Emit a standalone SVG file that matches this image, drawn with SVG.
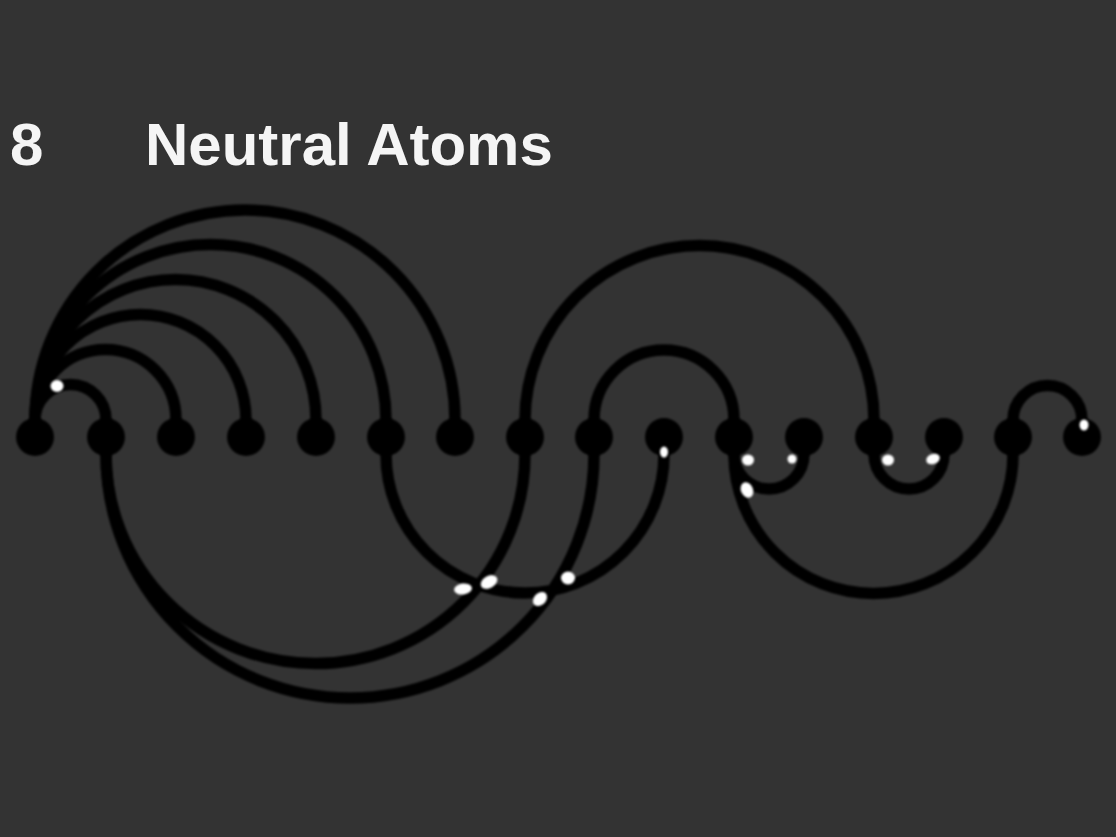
<svg xmlns="http://www.w3.org/2000/svg" width="1116" height="837" viewBox="0 0 1116 837">
  <style>
    .arc { fill: none; stroke: #000; stroke-width: 11.5; stroke-linecap: round; }
    .node { fill: #000; }
    .dot { fill: #fff; }
    .title { fill: #f5f5f5; font-family: "Liberation Sans", Arial, sans-serif; font-weight: bold; font-size: 60px; }
  </style>
  <defs>
    <filter id="soft" x="-5%" y="-5%" width="110%" height="110%">
      <feGaussianBlur stdDeviation="1.2"/>
    </filter>
  </defs>
  <rect width="1116" height="837" fill="#333333"/>

  <g id="title">
    <text class="title" x="10" y="165">8</text>
    <text class="title" x="145" y="165">Neutral Atoms</text>
  </g>

  <g id="connectors" filter="url(#soft)">
    <!-- upper arcs -->
    <path class="arc" d="M35,437 V420 A35.5,35.5 0 0 1 106,420 V437"/>
    <path class="arc" d="M35,437 V420 A70.5,70.5 0 0 1 176,420 V437"/>
    <path class="arc" d="M35,437 V420 A105.5,105.5 0 0 1 246,420 V437"/>
    <path class="arc" d="M35,437 V420 A140.5,140.5 0 0 1 316,420 V437"/>
    <path class="arc" d="M35,437 V420 A175.5,175.5 0 0 1 386,420 V437"/>
    <path class="arc" d="M35,437 V420 A210,210 0 0 1 455,420 V437"/>
    <path class="arc" d="M525,437 V420 A174.5,174.5 0 0 1 874,420 V437"/>
    <path class="arc" d="M594,437 V420 A70,70 0 0 1 734,420 V437"/>
    <path class="arc" d="M1013,437 V420 A34.5,34.5 0 0 1 1082,420 V437"/>
    <!-- lower arcs -->
    <path class="arc" d="M106,437 V454 A209.5,209.5 0 0 0 525,454 V437"/>
    <path class="arc" d="M106,437 V454 A244,244 0 0 0 594,454 V437"/>
    <path class="arc" d="M386,437 V454 A139,139 0 0 0 664,454 V437"/>
    <path class="arc" d="M734,437 V454 A35,35 0 0 0 804,454 V437"/>
    <path class="arc" d="M874,437 V454 A35,35 0 0 0 944,454 V437"/>
    <path class="arc" d="M734,437 V454 A139.5,139.5 0 0 0 1013,454 V437"/>
  </g>

  <g id="nodes" filter="url(#soft)">
    <g id="n0"><circle class="node" cx="35" cy="437" r="19"/></g>
    <g id="n1"><circle class="node" cx="106" cy="437" r="19"/></g>
    <g id="n2"><circle class="node" cx="176" cy="437" r="19"/></g>
    <g id="n3"><circle class="node" cx="246" cy="437" r="19"/></g>
    <g id="n4"><circle class="node" cx="316" cy="437" r="19"/></g>
    <g id="n5"><circle class="node" cx="386" cy="437" r="19"/></g>
    <g id="n6"><circle class="node" cx="455" cy="437" r="19"/></g>
    <g id="n7"><circle class="node" cx="525" cy="437" r="19"/></g>
    <g id="n8"><circle class="node" cx="594" cy="437" r="19"/></g>
    <g id="n9"><circle class="node" cx="664" cy="437" r="19"/></g>
    <g id="n10"><circle class="node" cx="734" cy="437" r="19"/></g>
    <g id="n11"><circle class="node" cx="804" cy="437" r="19"/></g>
    <g id="n12"><circle class="node" cx="874" cy="437" r="19"/></g>
    <g id="n13"><circle class="node" cx="944" cy="437" r="19"/></g>
    <g id="n14"><circle class="node" cx="1013" cy="437" r="19"/></g>
    <g id="n15"><circle class="node" cx="1082" cy="437" r="19"/></g>
  </g>

  <g id="highlights" filter="url(#soft)">
    <ellipse class="dot" cx="57" cy="386" rx="6.5" ry="6"/>
    <ellipse class="dot" cx="664" cy="452" rx="4" ry="5.5"/>
    <ellipse class="dot" cx="748" cy="460" rx="6" ry="5.5"/>
    <ellipse class="dot" cx="792" cy="459" rx="4.5" ry="4.5"/>
    <ellipse class="dot" cx="747" cy="490" rx="6" ry="8" transform="rotate(-25 747 490)"/>
    <ellipse class="dot" cx="888" cy="460" rx="6" ry="5.5"/>
    <ellipse class="dot" cx="933" cy="459" rx="7" ry="5" transform="rotate(-20 933 459)"/>
    <ellipse class="dot" cx="1084" cy="425" rx="4.5" ry="5.5"/>
    <ellipse class="dot" cx="463" cy="589" rx="9" ry="5.5" transform="rotate(-8 463 589)"/>
    <ellipse class="dot" cx="489" cy="582" rx="9" ry="6" transform="rotate(-30 489 582)"/>
    <ellipse class="dot" cx="540" cy="599" rx="8" ry="6" transform="rotate(-45 540 599)"/>
    <ellipse class="dot" cx="568" cy="578" rx="7" ry="6.5"/>
  </g>
</svg>
